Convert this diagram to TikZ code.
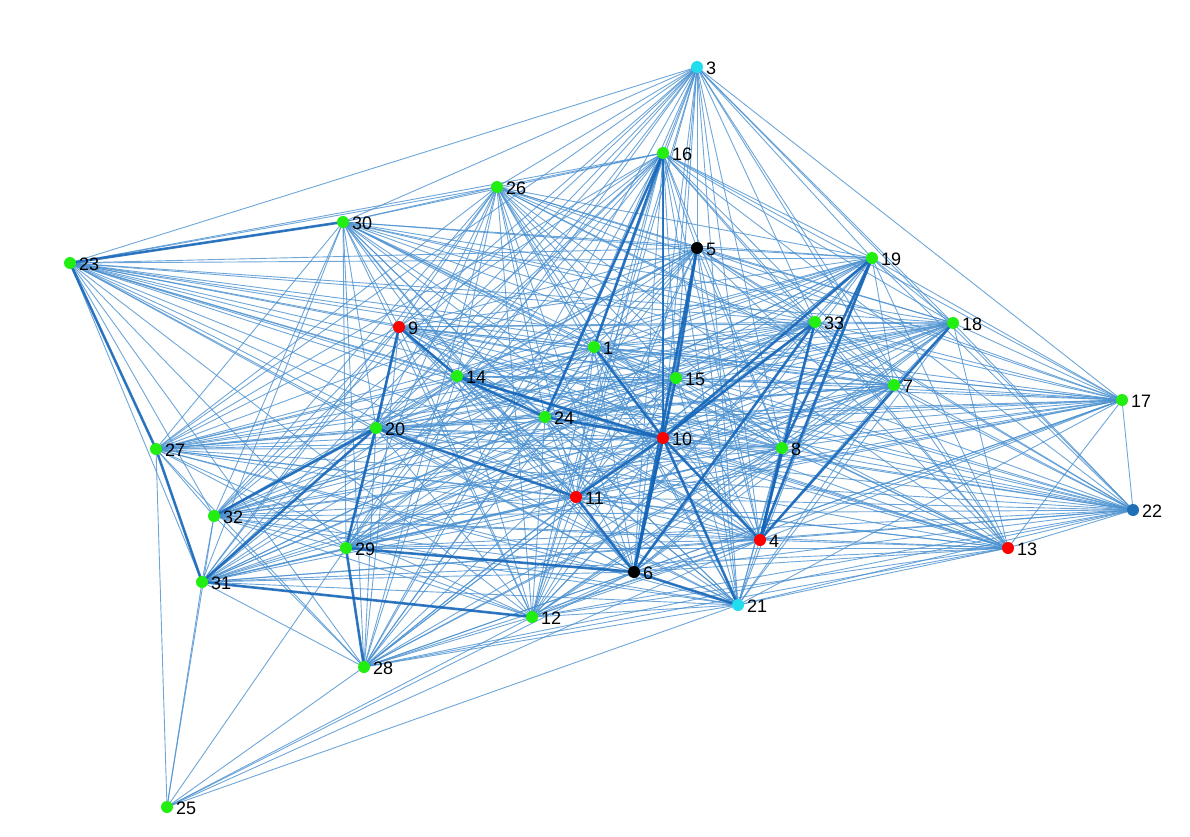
\documentclass[tikz,border=0pt]{standalone}
\usepackage{fontspec}
\setmainfont{Liberation Sans}
\definecolor{edgec}{HTML}{4A90CF}
\definecolor{thickc}{HTML}{1565B8}
\definecolor{gn}{HTML}{22EE11}
\definecolor{cy}{HTML}{22DDEE}
\definecolor{bl}{HTML}{1F6FB4}
\tikzset{
  edge/.style={draw=edgec, line width=0.9pt, opacity=0.8},
  strong/.style={draw=thickc, line width=2.6pt, opacity=0.85},
  dot/.style={circle, inner sep=0pt, minimum size=12pt},
  lab/.style={font=\fontsize{18}{18}\selectfont, anchor=west, inner sep=0pt, xshift=9pt, yshift=-1pt}
}
\begin{document}
\begin{tikzpicture}[x=1pt,y=-1pt]
\useasboundingbox (0,0) rectangle (1190,837);
\foreach \n/\x/\y in {3/697/67,16/663/153,26/497/187,30/343/222,23/70/263,5/697/248,19/872/258,9/399/327,33/815/322,18/953/323,1/594/347,14/457/376,15/676/378,7/894/385,17/1122/400,24/545/417,20/376/428,10/663/438,8/782/448,27/156/449,11/576/497,22/1133/510,32/214/516,4/760/540,13/1008/548,29/346/548,6/634/572,31/202/582,21/738/605,12/532/617,28/364/667,25/167/807}
  \coordinate (n\n) at (\x,\y);
\def\mylist{3,16,26,30,23,5,19,9,33,18,1,14,15,7,17,24,20,10,8,27,11,22,32,4,13,29,6,31,21,12,28}
\foreach \a [count=\i] in \mylist {
  \foreach \b [count=\j] in \mylist {
    \ifnum\j>\i \draw[edge] (n\a) -- (n\b); \fi
  }
}
\foreach \b in {31,27,28,12,6,21,29,32,4}
  \draw[edge] (n25) -- (n\b);
\foreach \a/\b in {5/6,10/6,9/20,20/29,33/4,16/10,19/10,14/10,10/4,6/21,9/14,16/1,5/15,19/8,33/6,18/4,1/10,24/10,20/32,31/12,29/28,20/31,10/11,15/6,8/4,19/4,11/6,14/24,20/11,29/6,30/23,23/27,27/31,10/21,16/24,33/10}
  \draw[strong] (n\a) -- (n\b);
\foreach \n/\c in {3/cy,16/gn,26/gn,30/gn,23/gn,5/black,19/gn,9/red,33/gn,18/gn,1/gn,14/gn,15/gn,7/gn,17/gn,24/gn,20/gn,10/red,8/gn,27/gn,11/red,22/bl,32/gn,4/red,13/red,29/gn,6/black,31/gn,21/cy,12/gn,28/gn,25/gn}
  \node[dot, fill=\c] (d\n) at (n\n) {} node[lab] (l\n) at (n\n) {\n};
\end{tikzpicture}
\end{document}
